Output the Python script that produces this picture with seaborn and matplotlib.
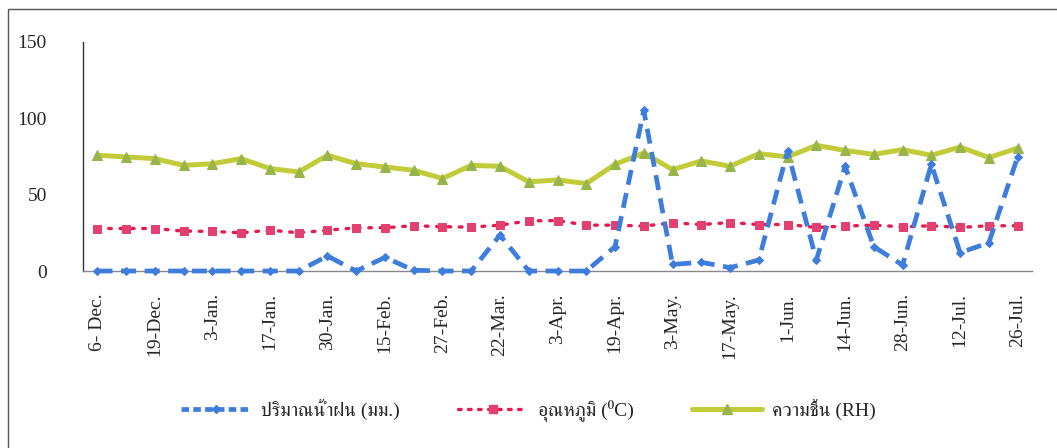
import numpy as np
import pandas as pd
import matplotlib
matplotlib.use("Agg")
import matplotlib.pyplot as plt
import seaborn as sns
from matplotlib import font_manager
from matplotlib.ft2font import FT2Font
from matplotlib.lines import Line2D
from matplotlib.patches import Rectangle

# ---------------- data ----------------
dates = ["6- Dec.", "", "19-Dec.", "", "3-Jan.", "", "17-Jan.", "", "30-Jan.", "",
         "15-Feb.", "", "27-Feb.", "", "22-Mar.", "", "3-Apr.", "", "19-Apr.", "",
         "3-May.", "", "17-May.", "", "1-Jun.", "", "14-Jun.", "", "28-Jun.", "",
         "12-Jul.", "", "26-Jul."]

rain = [0, 0, 0, 0, 0, 0, 0, 0, 9.8, 0, 8.9, 0.5, 0, 0, 23.5, 0, 0,
        0, 15.9, 105, 4.3, 5.7, 2.2, 7.2, 78.5, 7.2, 68.5, 15.9, 3.9, 69.8, 12.0, 18.5, 74.6]

temperature = [27.8, 27.8, 27.8, 26.1, 25.9, 25.0, 26.7, 25.0, 26.7, 28.3, 28.3, 29.6,
               29.0, 28.7, 30.0, 32.8, 33.0, 30.0, 30.0, 29.4, 31.5, 30.4, 31.7, 30.4,
               30.4, 28.5, 29.4, 30.0, 28.9, 29.6, 28.5, 29.6, 29.6]

humidity = [75.7, 74.6, 73.5, 69.1, 70.2, 73.5, 67.0, 64.8, 75.7, 70.2, 68.0, 65.9,
            60.5, 69.1, 68.5, 58.3, 59.6, 57.2, 69.8, 77.2, 66.3, 72.0, 68.5, 76.8,
            74.6, 82.2, 78.9, 76.3, 79.4, 75.7, 81.1, 74.2, 80.4]

series_labels = ["ปริมาณน้ำฝน (มม.)", "อุณหภูมิ (⁰C)", "ความชื้น (RH)"]
y_ticks = [0, 50, 100, 150]

# ---------------- fonts ----------------
def find_thai_font():
    preferred = []
    others = []
    for f in font_manager.fontManager.ttflist:
        try:
            cmap = FT2Font(f.fname).get_charmap()
        except Exception:
            continue
        if 0x0E1B in cmap and 0x0E49 in cmap:
            if any(k in f.name for k in ("Norasi", "Serif", "Tlwg", "Thai")):
                preferred.append(f.name)
            else:
                others.append(f.name)
    for lst in (preferred, others):
        if lst:
            return lst[0]
    return None

sns.set_theme(style="white")
thai = find_thai_font()
serif_family = ["Liberation Serif"] + ([thai] if thai else []) + ["DejaVu Serif"]
plt.rcParams["font.family"] = serif_family

# ---------------- figure ----------------
W, H = 1057, 448
fig = plt.figure(figsize=(W / 100, H / 100), dpi=100)
ax = fig.add_axes([83 / W, 1 - 271 / H, (1032 - 83) / W, (271 - 41.7) / H])

x = np.arange(len(dates))
df = pd.DataFrame({"x": x, "rain": rain, "temp": temperature, "rh": humidity})

rain_c = "#3f7ddc"
temp_line_c = "#e8194f"
temp_mark_c = "#e24070"
rh_line_c = "#c2cc3a"
rh_mark_c = "#97b54a"

sns.lineplot(data=df, x="x", y="rh", ax=ax, color=rh_line_c, lw=3.6,
             marker="^", markersize=7, markerfacecolor=rh_mark_c,
             markeredgecolor=rh_mark_c, clip_on=False, zorder=3)
sns.lineplot(data=df, x="x", y="temp", ax=ax, color=temp_line_c, lw=2.4,
             linestyle=(0, (0.8, 2.6)), dash_capstyle="round",
             marker="s", markersize=6, markerfacecolor=temp_mark_c,
             markeredgecolor=temp_mark_c, clip_on=False, zorder=4)
sns.lineplot(data=df, x="x", y="rain", ax=ax, color=rain_c, lw=3.4,
             linestyle=(0, (3.2, 1.8)),
             marker="D", markersize=4.5, markerfacecolor=rain_c,
             markeredgecolor=rain_c, clip_on=False, zorder=5)

ax.set_xlim(-0.5, len(dates) - 0.5)
ax.set_ylim(0, 150)
ax.set_yticks(y_ticks)
ax.set_yticklabels([str(v) for v in y_ticks], fontsize=14, family=serif_family)
ax.set_xticks(x)
ax.set_xticklabels(dates, rotation=90, fontsize=14, family=serif_family,
                   ha="center", va="top")
ax.tick_params(axis="y", length=0, pad=26)
ax.tick_params(axis="x", length=0, pad=16)
ax.set_xlabel("")
ax.set_ylabel("")
ax.grid(False)

for s in ("top", "right"):
    ax.spines[s].set_visible(False)
ax.spines["left"].set_color("#333333")
ax.spines["left"].set_linewidth(1.0)
ax.spines["bottom"].set_color("#888888")
ax.spines["bottom"].set_linewidth(1.0)

# legend
handles = [
    Line2D([], [], color=rain_c, lw=3.4, linestyle=(0, (1.6, 0.9)),
           marker="D", markersize=4.5, markerfacecolor=rain_c, markeredgecolor=rain_c),
    Line2D([], [], color=temp_line_c, lw=2.4, linestyle=(0, (0.8, 2.2)),
           dash_capstyle="round", marker="s", markersize=6,
           markerfacecolor=temp_mark_c, markeredgecolor=temp_mark_c),
    Line2D([], [], color=rh_line_c, lw=3.6, marker="^", markersize=7,
           markerfacecolor=rh_mark_c, markeredgecolor=rh_mark_c),
]
fig.legend(handles, series_labels, loc="center", bbox_to_anchor=(0.5, 1 - 410 / H),
           ncol=3, frameon=False, handlelength=3.6, columnspacing=3.0,
           handletextpad=0.5, prop={"family": serif_family, "size": 14})

# chart border
fig.patches.append(Rectangle((8 / W, -0.1), 1.2, 1.1 - 9 / H,
                             transform=fig.transFigure, fill=False,
                             edgecolor="#555555", lw=1.0))

fig.savefig("out.png", dpi=100)
